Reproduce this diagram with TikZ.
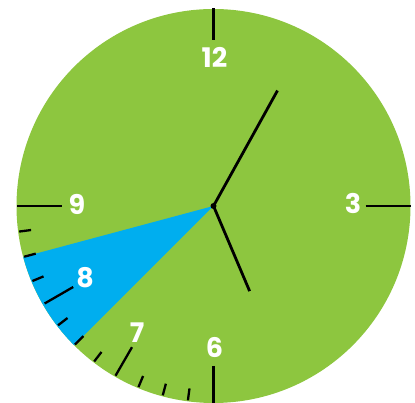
\documentclass[tikz,border=0pt]{standalone}
\usepackage{fontspec}
\setmainfont{Poppins}
\usetikzlibrary{positioning}
\definecolor{faceGreen}{RGB}{141,198,63}
\definecolor{slotBlue}{RGB}{0,174,239}

\begin{document}
\begin{tikzpicture}[x=1pt, y=1pt,
  num/.style={text=white, font=\bfseries\fontsize{27}{27}\selectfont, inner sep=0pt},
  minortick/.style={line width=2.3pt, black},
  hourtick/.style={line width=2.3pt, black},
  hand/.style={line width=2.8pt, black}
]
\useasboundingbox (0,0) rectangle (415,403);
\coordinate (O) at (213.5,197);
\fill[faceGreen] (O) circle (197);
\fill[slotBlue] (O) -- ++(195:197) arc (195:225:197) -- cycle;

\begin{scope}[shift={(O)}]
\foreach \a in {-97.5,-105,-112.5,-127.5,-135,-142.5,-157.5,-165,-172.5}
  \draw[minortick] (\a:184) -- (\a:196);
\draw[hourtick] (90:166) -- (90:198);
\draw[hourtick] (0:152) -- (0:197);
\draw[hourtick] (270:160) -- (270:197);
\draw[hourtick] (180:152) -- (180:197);
\draw[hourtick] (240:163) -- (240:196);
\draw[hourtick] (210:162) -- (210:195);
\end{scope}

\draw[hand] (O) -- ++(61:132);
\draw[hand] (O) -- ++(-67:92.5);
\fill (O) circle (3);

\node[num] (lblTwelve) at (214.5,345.5) {12};
\node[num] (lblThree) at (353,199.5) {3};
\node[num] (lblSix) at (214.5,55) {6};
\node[num] (lblSeven) at (137,70) {7};
\node[num] (lblEight) at (85,125) {8};
\node[num] (lblNine) at (77,198.5) {9};
\end{tikzpicture}
\end{document}
